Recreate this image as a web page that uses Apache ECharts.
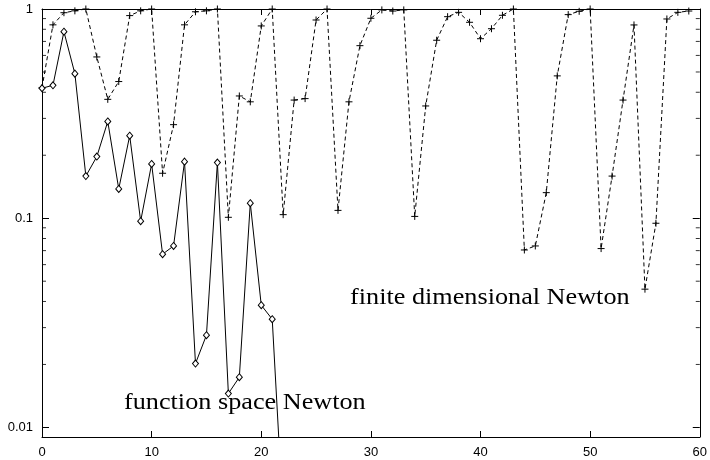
<!DOCTYPE html>
<html>
<head>
<meta charset="utf-8">
<script src="https://cdn.jsdelivr.net/npm/echarts@6/dist/echarts.min.js"></script>
<style>
html, body { margin: 0; padding: 0; background: #fff; }
#chart { width: 710px; height: 460px; }
</style>
</head>
<body>
<div id="chart"></div>
<script>
// function space Newton, iterations 0..22
let funcIter = [0, 1, 2, 3, 4, 5, 6, 7, 8, 9, 10, 11, 12, 13, 14, 15, 16, 17, 18, 19, 20, 21, 22]
let funcVals = [0.418, 0.432, 0.779, 0.491, 0.159, 0.197, 0.290, 0.138, 0.248, 0.0968, 0.1817,
  0.0673, 0.0737, 0.1864, 0.0202, 0.0276, 0.1845, 0.01452, 0.01738, 0.118, 0.0384, 0.0329, 0.0037]

// finite dimensional Newton, iterations 0..59
let finIter = []
for (let i = 0; i < 60; i++) finIter.push(i)
let finVals = [0.42, 0.84, 0.96, 0.98, 1.0, 0.59, 0.37, 0.45, 0.93, 0.98,
  1.0, 0.164, 0.28, 0.84, 0.97, 0.98, 1.0, 0.101, 0.384, 0.36,
  0.83, 1.0, 0.104, 0.367, 0.373, 0.886, 1.0, 0.109, 0.36, 0.668,
  0.903, 0.99, 0.978, 0.99, 0.102, 0.344, 0.709, 0.919, 0.964, 0.864,
  0.721, 0.805, 0.933, 1.0, 0.0705, 0.0737, 0.1325, 0.479, 0.94, 0.975,
  1.0, 0.0716, 0.159, 0.367, 0.839, 0.0458, 0.0946, 0.896, 0.964, 0.978]

let yLabels = { '1': '1', '0.1': '0.1', '0.01': '0.01' }
let minorTicks = [0.02, 0.03, 0.04, 0.05, 0.06, 0.07, 0.08, 0.09,
  0.2, 0.3, 0.4, 0.5, 0.6, 0.7, 0.8, 0.9]

let plus = 'path://M5,0L5,10M0,5L10,5'
let serif = '23px "Liberation Serif", "DejaVu Serif", serif'
let sans = '"Liberation Sans", Arial, sans-serif'

let oChart = echarts.init(document.getElementById('chart'))

let axisLine = { show: true, onZero: false, lineStyle: { color: '#000', width: 1 } }

let option = {
  animation: false,
  backgroundColor: '#fff',
  grid: { left: 42, right: 8, top: 9, bottom: 23 },
  xAxis: [{
    type: 'value', min: 0, max: 60, interval: 10, position: 'bottom',
    axisLine: axisLine,
    axisTick: { inside: true, length: 6, lineStyle: { color: '#000' } },
    axisLabel: { color: '#000', fontSize: 13, fontFamily: sans, margin: 9 },
    splitLine: { show: false }
  }, {
    type: 'value', min: 0, max: 60, interval: 10, position: 'top',
    axisLine: axisLine,
    axisTick: { inside: true, length: 6, lineStyle: { color: '#000' } },
    axisLabel: { show: false },
    splitLine: { show: false }
  }],
  yAxis: [{
    type: 'log', min: 0.009, max: 1, logBase: 10, position: 'left',
    axisLine: axisLine,
    axisTick: { inside: true, length: 7, lineStyle: { color: '#000' } },
    axisLabel: {
      color: '#000', fontSize: 13, fontFamily: sans, margin: 9,
      showMinLabel: false,
      formatter: function (v) { return yLabels[String(+v.toPrecision(3))] || '' }
    },
    splitLine: { show: false }
  }, {
    type: 'log', min: 0.009, max: 1, logBase: 10, position: 'right',
    axisLine: axisLine,
    axisTick: { inside: true, length: 7, lineStyle: { color: '#000' } },
    axisLabel: { show: false },
    splitLine: { show: false }
  }],
  graphic: [
    { type: 'text', x: 350, y: 298, scaleX: 1.14,
      style: { text: 'finite dimensional Newton', font: serif, fill: '#000', textVerticalAlign: 'middle' } },
    { type: 'text', x: 124, y: 403, scaleX: 1.14,
      style: { text: 'function space Newton', font: serif, fill: '#000', textVerticalAlign: 'middle' } }
  ],
  series: [{
    name: 'finite dimensional Newton',
    type: 'line',
    data: finIter.map((x, i) => [x, finVals[i]]),
    symbol: plus, symbolSize: 7,
    itemStyle: { color: '#000', borderColor: '#000', borderWidth: 1 },
    lineStyle: { color: '#000', width: 1, type: [4, 3] },
    z: 3
  }, {
    name: 'function space Newton',
    type: 'line',
    data: funcIter.map((x, i) => [x, funcVals[i]]),
    symbol: 'diamond', symbolSize: [6, 7],
    itemStyle: { color: '#fff', borderColor: '#000', borderWidth: 1 },
    lineStyle: { color: '#000', width: 1 },
    z: 4
  }, {
    // minor log ticks on the left frame
    type: 'scatter', clip: false, silent: true,
    data: minorTicks.map(v => [0, v]),
    symbol: 'rect', symbolSize: [4, 1], symbolOffset: [2, 0],
    itemStyle: { color: '#000' }
  }, {
    // minor log ticks on the right frame
    type: 'scatter', clip: false, silent: true,
    data: minorTicks.map(v => [60, v]),
    symbol: 'rect', symbolSize: [4, 1], symbolOffset: [-2, 0],
    itemStyle: { color: '#000' }
  }]
}

oChart.setOption(option)
</script>
</body>
</html>
